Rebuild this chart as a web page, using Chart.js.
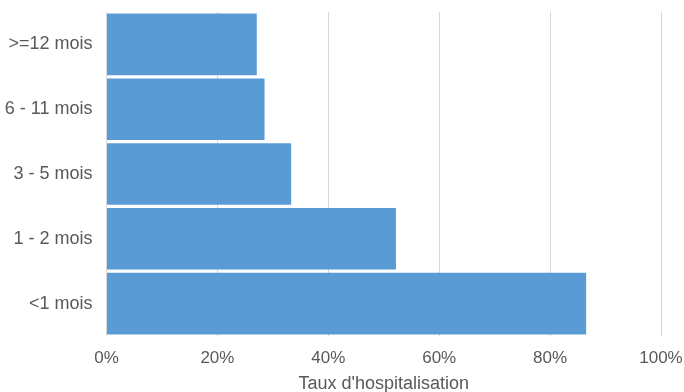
<!DOCTYPE html>
<html>
<head>
<meta charset="utf-8">
<script src="https://cdn.jsdelivr.net/npm/chart.js@4"></script>
<style>
  html, body { margin: 0; padding: 0; background: #ffffff; }
  #wrap { width: 684px; height: 392px; }
</style>
</head>
<body>
<div id="wrap"><canvas id="c" width="684" height="392"></canvas></div>
<script>
// Age groups (top to bottom) and hospitalisation rate in percent
const categories = ['>=12 mois', '6 - 11 mois', '3 - 5 mois', '1 - 2 mois', '<1 mois'];
const rates = [27.1, 28.5, 33.3, 52.2, 86.5];
const xTicks = [0, 20, 40, 60, 80, 100];
const xTitle = "Taux d'hospitalisation";

const FONT = 'Liberation Sans, Arial, sans-serif';

new Chart(document.getElementById('c'), {
  type: 'bar',
  data: {
    labels: categories,
    datasets: [{
      data: rates,
      backgroundColor: '#5b9bd5',
      borderWidth: 0,
      barPercentage: 0.95,
      categoryPercentage: 1.0
    }]
  },
  options: {
    indexAxis: 'y',
    responsive: false,
    animation: false,
    layout: { padding: { left: 0, right: 23, top: 12, bottom: 0 } },
    plugins: { legend: { display: false }, tooltip: { enabled: false } },
    scales: {
      x: {
        min: 0, max: 100,
        afterBuildTicks: (s) => { s.ticks = xTicks.map(v => ({ value: v })); },
        afterFit: (s) => { s.height = 56; s.paddingLeft = 0; s.paddingRight = 0; },
        grid: { color: '#d9d9d9', lineWidth: 1, drawTicks: false },
        border: { display: false },
        ticks: {
          padding: 12,
          maxRotation: 0,
          color: '#595959',
          font: { family: FONT, size: 17 },
          callback: (v) => v + '%'
        },
        title: {
          display: true,
          text: xTitle,
          color: '#595959',
          padding: { top: 0, bottom: -3 },
          font: { family: FONT, size: 18 }
        }
      },
      y: {
        afterFit: (s) => { s.width = 106.5; s.paddingTop = 0; s.paddingBottom = 0; },
        grid: { display: false, drawTicks: false },
        border: { display: false },
        ticks: {
          padding: 14,
          color: '#595959',
          font: { family: FONT, size: 18 }
        }
      }
    }
  }
});
</script>
</body>
</html>
